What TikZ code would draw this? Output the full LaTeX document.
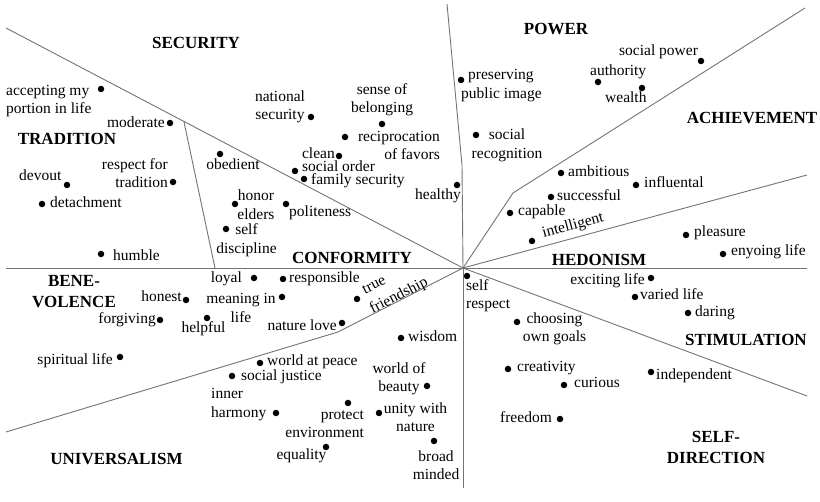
\documentclass[tikz,border=0pt]{standalone}
\usepackage{fontspec}
\setmainfont{Liberation Serif}
\newcommand\lblsize{\fontsize{15.5}{18.5}\selectfont}
\newcommand\ttlsize{\fontsize{17}{21}\selectfont\bfseries}

\begin{document}
\begin{tikzpicture}[x=1pt,y=-1pt,
  divider/.style={draw=black!55, line width=0.9pt},
  dot/.style={circle, fill=black, inner sep=0pt, minimum size=6.5pt},
  lbl/.style={inner sep=0pt, font=\lblsize, yshift=-4pt},
  lw/.style={lbl, anchor=base west},
  le/.style={lbl, anchor=base east},
  lc/.style={lbl, anchor=base},
  mlbl/.style={inner sep=0pt, font=\lblsize},
  ttl/.style={inner sep=0pt, font=\ttlsize, align=center},
]
\useasboundingbox (0,0) rectangle (820,502);

% ---- region boundaries ----
\coordinate (c)    at (463,268);
\coordinate (nw)   at (6,28);
\coordinate (tsp)  at (184,122);
\coordinate (tend) at (215,268);
\coordinate (nbend) at (462,165);
\coordinate (n)    at (447,4);
\coordinate (abend) at (513,193);
\coordinate (ne)   at (805,8);
\coordinate (e)    at (807,175);
\coordinate (w)    at (6,268);
\coordinate (ee)   at (807,268);
\coordinate (se)   at (807,396);
\coordinate (s)    at (463,488);
\coordinate (ubend) at (338,332);
\coordinate (sw)   at (6,432);

\draw[divider] (c) -- (nw);
\draw[divider] (tsp) -- (tend);
\draw[divider] (c) -- (nbend) -- (n);
\draw[divider] (c) -- (abend) -- (ne);
\draw[divider] (c) -- (e);
\draw[divider] (w) -- (ee);
\draw[divider] (c) -- (se);
\draw[divider] (c) -- (s);
\draw[divider] (c) -- (ubend) -- (sw);

% ---- region titles ----
\node[ttl] (tSec)  at (196,43)  {SECURITY};
\node[ttl] (tPow)  at (556,29)  {POWER};
\node[ttl] (tAch)  at (752,118) {ACHIEVEMENT};
\node[ttl] (tTra)  at (67,139)  {TRADITION};
\node[ttl] (tCon)  at (352,258) {CONFORMITY};
\node[ttl] (tHed)  at (599,260) {HEDONISM};
\node[ttl] (tBen)  at (74,291.5) {BENE-\\VOLENCE};
\node[ttl] (tSti)  at (746,340) {STIMULATION};
\node[ttl] (tUni)  at (116.5,459) {UNIVERSALISM};
\node[ttl] (tSel)  at (716,447.5) {SELF-\\DIRECTION};

% ---- tradition ----
\node[dot] (d1) at (101,89) {};
\node[mlbl, align=left, anchor=west] (l1) at (6,101) {accepting my\\portion in life};
\node[dot] (d2) at (170,123) {};
\node[le] (l2) at (165,124) {moderate};
\node[dot] (d3) at (173,182) {};
\node[mlbl, align=right, anchor=east] (l3) at (168,173) {respect for\\tradition};
\node[dot] (d4) at (67,185) {};
\node[lw] (l4) at (19,177) {devout};
\node[dot] (d5) at (42,204) {};
\node[lw] (l5) at (50,204) {detachment};
\node[dot] (d6) at (101,254) {};
\node[lw] (l6) at (113,257) {humble};

% ---- security ----
\node[dot] (d7) at (311,117) {};
\node[mlbl, align=center] (l7) at (280,107) {national\\security};
\node[dot] (d8) at (382,124) {};
\node[mlbl, align=center] (l8) at (382,99.5) {sense of\\belonging};
\node[dot] (d9) at (345,137) {};
\node[mlbl, align=right, anchor=east] (l9) at (440,145.5) {reciprocation\\of favors};
\node[dot] (d10) at (339,156) {};
\node[le] (l10) at (335,155) {clean};
\node[dot] (d11) at (295,171) {};
\node[lw] (l11) at (302,168) {social order};
\node[dot] (d12) at (304,179) {};
\node[lw] (l12) at (311,181) {family security};
\node[dot] (d13) at (457,185) {};
\node[le] (l13) at (461,196) {healthy};

% ---- power ----
\node[dot] (d14) at (461,80) {};
\node[mlbl, align=left, anchor=west] (l14) at (461,85.5) {\hspace*{7pt}preserving\\public image};
\node[dot] (d15) at (476,135) {};
\node[mlbl, align=center] (l15) at (507,145.5) {social\\recognition};
\node[dot] (d16) at (701,61) {};
\node[lw] (l16) at (619,52) {social power};
\node[dot] (d17) at (598,82) {};
\node[lw] (l17) at (590,72) {authority};
\node[dot] (d18) at (642,88) {};
\node[lw] (l18) at (605,99) {wealth};

% ---- achievement ----
\node[dot] (d19) at (561,173) {};
\node[lw] (l19) at (568,173) {ambitious};
\node[dot] (d20) at (636,185) {};
\node[lw] (l20) at (644,184) {influental};
\node[dot] (d21) at (551,197) {};
\node[lw] (l21) at (557,197) {successful};
\node[dot] (d22) at (510,213) {};
\node[lw] (l22) at (518,212) {capable};
\node[dot] (d23) at (532,241) {};
\node[mlbl, rotate=15] (l23) at (573,226) {intelligent};

% ---- hedonism ----
\node[dot] (d24) at (686,235) {};
\node[lw] (l24) at (694,233) {pleasure};
\node[dot] (d25) at (723,254) {};
\node[lw] (l25) at (731,252) {enyoing life};

% ---- conformity ----
\node[dot] (d26) at (220,154) {};
\node[lc] (l26) at (233,166) {obedient};
\node[dot] (d27) at (235,204) {};
\node[mlbl, align=center] (l27) at (256,204.5) {honor\\elders};
\node[dot] (d28) at (226,229) {};
\node[mlbl, align=center] (l28) at (246.5,240) {self\\discipline};
\node[dot] (d29) at (286,204) {};
\node[lw] (l29) at (289,213) {politeness};

% ---- benevolence ----
\node[dot] (d30) at (254,278) {};
\node[le] (l30) at (242,279) {loyal};
\node[dot] (d31) at (283,279) {};
\node[lw] (l31) at (289,279) {responsible};
\node[dot] (d32) at (186,300) {};
\node[le] (l32) at (182,298) {honest};
\node[dot] (d33) at (282,297) {};
\node[mlbl, align=center] (l33) at (241,308) {meaning in\\life};
\node[dot] (d34) at (160,320) {};
\node[le] (l34) at (156,320) {forgiving};
\node[dot] (d35) at (207,318) {};
\node[lc] (l35) at (203.5,329) {helpful};
\node[dot] (d36) at (357,299) {};
\node[mlbl, rotate=27] (l36a) at (374,285) {true};
\node[mlbl, rotate=27] (l36b) at (399,296) {friendship};

% ---- universalism ----
\node[dot] (d37) at (342,323) {};
\node[le] (l37) at (337,327) {nature love};
\node[dot] (d38) at (401,338) {};
\node[lw] (l38) at (408,338) {wisdom};
\node[dot] (d39) at (260,363) {};
\node[lw] (l39) at (267,362) {world at peace};
\node[dot] (d40) at (232,376) {};
\node[lw] (l40) at (241,377) {social justice};
\node[dot] (d41) at (276,413) {};
\node[mlbl, align=left, anchor=west] (l41) at (211,404.5) {inner\\harmony};
\node[dot] (d42) at (427,386) {};
\node[mlbl, align=center] (l42) at (399,378.5) {world of\\beauty};
\node[dot] (d43) at (348,403) {};
\node[mlbl, align=right, anchor=east] (l43) at (364,424) {protect\\environment};
\node[dot] (d44) at (379,413) {};
\node[mlbl, align=center] (l44) at (415.5,417) {unity with\\nature};
\node[dot] (d45) at (326,447) {};
\node[lc] (l45) at (301.5,456) {equality};
\node[dot] (d46) at (434,441) {};
\node[mlbl, align=center] (l46) at (436,465) {broad\\minded};
\node[dot] (d47) at (120,357) {};
\node[le] (l47) at (113,361) {spiritual life};

% ---- self-direction ----
\node[dot] (d48) at (467,276) {};
\node[mlbl, align=left, anchor=west] (l48) at (466,295.5) {self\\respect};
\node[dot] (d49) at (517,322) {};
\node[mlbl, align=center] (l49) at (554.5,329) {choosing\\own goals};
\node[dot] (d50) at (508,369) {};
\node[lw] (l50) at (517,368) {creativity};
\node[dot] (d51) at (564,385) {};
\node[lw] (l51) at (574,384) {curious};
\node[dot] (d52) at (651,372) {};
\node[lw] (l52) at (656,376) {independent};
\node[dot] (d53) at (560,419) {};
\node[le] (l53) at (552,419) {freedom};

% ---- stimulation ----
\node[dot] (d54) at (651,278) {};
\node[le] (l54) at (645,281) {exciting life};
\node[dot] (d55) at (635,297) {};
\node[lw] (l55) at (640,296) {varied life};
\node[dot] (d56) at (688,313) {};
\node[lw] (l56) at (695,313) {daring};
\end{tikzpicture}
\end{document}
